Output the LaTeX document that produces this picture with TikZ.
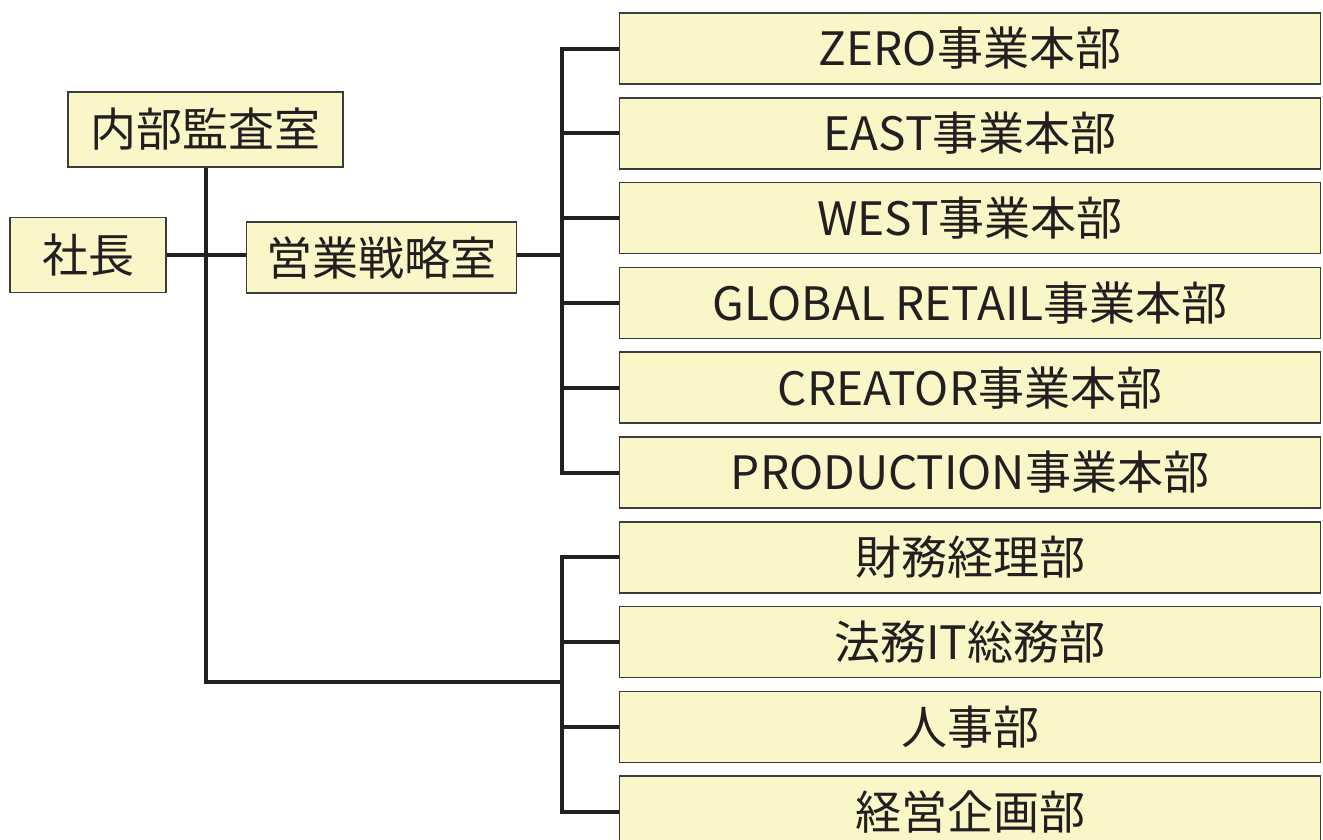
\documentclass[tikz,border=0pt]{standalone}
\usepackage{fontspec}
\setmainfont{Noto Sans CJK JP}
\definecolor{boxfill}{HTML}{FAF6C8}
\definecolor{boxline}{HTML}{3C3C3C}
\definecolor{ink}{HTML}{231F20}
\begin{document}
\begin{tikzpicture}[x=1pt,y=-1pt,
  box/.style={draw=boxline,fill=boxfill,line width=1.6pt,inner sep=0pt,
    text=ink,font=\fontsize{46}{50}\selectfont,minimum height=71pt},
  rbox/.style={box,minimum width=701pt},
  conn/.style={draw=ink,line width=4pt,line join=miter}]
\useasboundingbox (0,0) rectangle (1323,839);
% left nodes
\node[box,minimum width=275pt,minimum height=75pt] (kansa) at (205.5,129.5) {内部監査室};
\node[box,minimum width=156pt,minimum height=75pt] (shacho) at (88,255) {社長};
\node[box,minimum width=270pt] (eigyo) at (381.5,257.5) {営業戦略室};
% right nodes
\node[rbox] (r1) at (970,48.5) {ZERO事業本部};
\node[rbox] (r2) at (970,133.3) {EAST事業本部};
\node[rbox] (r3) at (970,218.1) {WEST事業本部};
\node[rbox] (r4) at (970,302.9) {GLOBAL RETAIL事業本部};
\node[rbox] (r5) at (970,387.7) {CREATOR事業本部};
\node[rbox] (r6) at (970,472.5) {PRODUCTION事業本部};
\node[rbox] (r7) at (970,557.3) {財務経理部};
\node[rbox] (r8) at (970,642.1) {法務IT総務部};
\node[rbox] (r9) at (970,726.9) {人事部};
\node[rbox] (r10) at (970,811.7) {経営企画部};
% bus coordinates
\coordinate (b1) at (562,255);
\coordinate (b2) at (562,682);
% connectors
\draw[conn] (shacho.east) -- (shacho.east -| eigyo.west);
\draw[conn] (kansa.south) |- (b2);
\draw[conn] (eigyo.east |- b1) -- (b1);
\draw[conn] (r1.west) -| (b1) |- (r6.west);
\foreach \n in {r2,r3,r4,r5} \draw[conn] (\n.west) -- (\n.west -| b1);
\draw[conn] (r7.west) -| (b2) |- (r10.west);
\foreach \n in {r8,r9} \draw[conn] (\n.west) -- (\n.west -| b2);
\end{tikzpicture}
\end{document}
